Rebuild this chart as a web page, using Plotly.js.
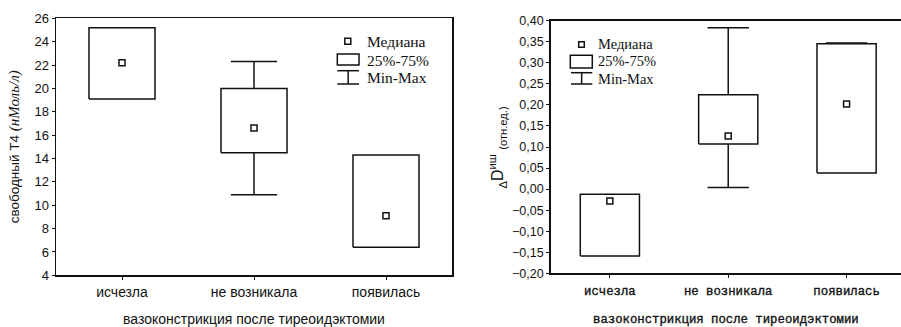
<!DOCTYPE html>
<html>
<head>
<meta charset="utf-8">
<script src="https://cdn.plot.ly/plotly-3.0.1.min.js"></script>
<style>
  html, body { margin: 0; padding: 0; background: #fff; }
  #chart { width: 901px; height: 327px; }
  /* slightly heavier monospace labels on the right-hand panel */
  #chart .x2tick text, #chart .x2title { stroke: #111; stroke-width: 0.35px; }
</style>
</head>
<body>
<div id="chart"></div>
<script>
// Groups: vasoconstriction after thyroidectomy
const categories = ['исчезла', 'не возникала', 'появилась'];

// Free T4, nmol/l: min, quartiles, median, max per group
const t4Min    = [19.1, 10.9, 6.4];
const t4Q1     = [19.1, 14.5, 6.4];
const t4Median = [22.2, 16.6, 9.1];
const t4Q3     = [25.2, 20.0, 14.3];
const t4Max    = [25.2, 22.3, 14.3];

// ΔD (relative units): min, quartiles, median, max per group
const dMin    = [-0.159, 0.004, 0.038];
const dQ1     = [-0.159, 0.107, 0.038];
const dMedian = [-0.028, 0.126, 0.202];
const dQ3     = [-0.012, 0.224, 0.345];
const dMax    = [-0.012, 0.383, 0.347];

const W = 901, H = 327;
const BOX_HALF = 0.25;   // half box width, in category units
const CAP_HALF = 0.175;  // half whisker-cap width
const INK = '#111';

// pixel -> paper fraction helpers for layout placement
const px = v => v / W;
const py = v => 1 - v / H;

function groupTraces(xa, ya, mins, q1, med, q3, maxs) {
  const bx = [], by = [], wx = [], wy = [];
  categories.forEach((c, i) => {
    bx.push(i - BOX_HALF, i + BOX_HALF, i + BOX_HALF, i - BOX_HALF, i - BOX_HALF, null);
    by.push(q1[i], q1[i], q3[i], q3[i], q1[i], null);
    if (maxs[i] > q3[i]) {
      wx.push(i, i, null, i - CAP_HALF, i + CAP_HALF, null);
      wy.push(q3[i], maxs[i], null, maxs[i], maxs[i], null);
    }
    if (mins[i] < q1[i]) {
      wx.push(i, i, null, i - CAP_HALF, i + CAP_HALF, null);
      wy.push(q1[i], mins[i], null, mins[i], mins[i], null);
    }
  });
  return [
    { type: 'scatter', mode: 'lines', x: wx, y: wy, xaxis: xa, yaxis: ya,
      line: { color: INK, width: 1.5 }, hoverinfo: 'skip', showlegend: false },
    { type: 'scatter', mode: 'lines', x: bx, y: by, xaxis: xa, yaxis: ya,
      line: { color: INK, width: 1.5 }, hoverinfo: 'skip', showlegend: false },
    { type: 'scatter', mode: 'markers', x: categories.map((c, i) => i), y: med,
      xaxis: xa, yaxis: ya, showlegend: false,
      marker: { symbol: 'square-open', size: 6, color: INK, line: { width: 1.5, color: INK } } }
  ];
}

const traces = [
  ...groupTraces('x', 'y', t4Min, t4Q1, t4Median, t4Q3, t4Max),
  ...groupTraces('x2', 'y2', dMin, dQ1, dMedian, dQ3, dMax)
];

// hand-drawn key: marker square, quartile box, min-max whisker
function keyShapes(sq, box, wh) {
  const s = [];
  const line = { color: INK, width: 1.5 };
  s.push({ type: 'rect', xref: 'paper', yref: 'paper',
    x0: px(sq.cx - sq.s / 2), x1: px(sq.cx + sq.s / 2),
    y0: py(sq.cy + sq.s / 2), y1: py(sq.cy - sq.s / 2), line });
  s.push({ type: 'rect', xref: 'paper', yref: 'paper',
    x0: px(box.x0), x1: px(box.x1), y0: py(box.y1), y1: py(box.y0), line });
  const cx = (wh.x0 + wh.x1) / 2;
  s.push({ type: 'line', xref: 'paper', yref: 'paper', x0: px(wh.x0), x1: px(wh.x1), y0: py(wh.y0), y1: py(wh.y0), line });
  s.push({ type: 'line', xref: 'paper', yref: 'paper', x0: px(cx), x1: px(cx), y0: py(wh.y0), y1: py(wh.y1), line });
  s.push({ type: 'line', xref: 'paper', yref: 'paper', x0: px(wh.x0), x1: px(wh.x1), y0: py(wh.y1), y1: py(wh.y1), line });
  return s;
}
function keyTexts(x, ys, size) {
  const labels = ['Медиана', '25%-75%', 'Min-Max'];
  return labels.map((t, i) => ({
    text: t, xref: 'paper', yref: 'paper', x: px(x), y: py(ys[i]),
    xanchor: 'left', yanchor: 'middle', showarrow: false,
    font: { family: 'Liberation Serif, Times New Roman, serif', size, color: INK }
  }));
}

const sans = 'Liberation Sans, Arial, sans-serif';
const mono = 'Liberation Mono, Courier New, monospace';

const axisCommon = {
  showgrid: false, zeroline: false, showline: true, linecolor: INK, linewidth: 1.5,
  ticks: 'outside', ticklen: 3, tickcolor: INK, tickwidth: 1
};

const layout = {
  width: W, height: H,
  margin: { l: 0, r: 0, t: 0, b: 0 },
  paper_bgcolor: '#fff', plot_bgcolor: '#fff',
  showlegend: false,
  separators: ', ',
  xaxis: Object.assign({}, axisCommon, {
    domain: [px(56), px(452)], anchor: 'y', mirror: true,
    range: [-0.5, 2.5], tickvals: [0, 1, 2], ticktext: categories,
    tickfont: { family: sans, size: 14, color: INK },
    title: { text: 'вазоконстрикция после тиреоидэктомии', font: { family: sans, size: 14, color: INK }, standoff: 16 }
  }),
  yaxis: Object.assign({}, axisCommon, {
    domain: [py(275.3), py(18.3)], anchor: 'x', mirror: true,
    range: [4, 26], dtick: 2, tick0: 4,
    tickfont: { family: sans, size: 13, color: INK },
    title: {
      text: 'свободный Т4 <span style="font-family:\'Liberation Serif\', serif;font-size:15px"><i>(нМоль/л)</i></span>',
      font: { family: sans, size: 13.5, color: INK }, standoff: 11
    }
  }),
  xaxis2: Object.assign({}, axisCommon, {
    domain: [px(550.7), 1], anchor: 'y2', mirror: true,
    range: [-0.5, -0.5 + 350.3 / 118.35], tickvals: [0, 1, 2], ticktext: categories,
    tickfont: { family: mono, size: 12.3, color: INK },
    ticklabelstandoff: 2,
    title: { text: 'вазоконстрикция после тиреоидэктомии', font: { family: mono, size: 12.3, color: INK }, standoff: 17 }
  }),
  yaxis2: Object.assign({}, axisCommon, {
    domain: [py(273.3), py(20.7)], anchor: 'x2', mirror: false,
    range: [-0.2, 0.4], dtick: 0.05, tick0: 0, tickformat: '.2f',
    tickfont: { family: sans, size: 12.5, color: INK }
  }),
  shapes: [
    ...keyShapes({ cx: 347.8, cy: 41.3, s: 6 }, { x0: 337.3, x1: 359, y0: 54, y1: 65 }, { x0: 337.3, x1: 359, y0: 70.7, y1: 84 }),
    ...keyShapes({ cx: 581.5, cy: 44.5, s: 5.6 }, { x0: 570.3, x1: 592.3, y0: 55.3, y1: 68 }, { x0: 571, x1: 592.3, y0: 72.7, y1: 84 })
  ],
  annotations: [
    ...keyTexts(364.5, [41.5, 60, 77], 15.5),
    ...keyTexts(596, [44.3, 61, 78.7], 14.5),
    {
      text: '<sub>Δ</sub>D<sup>иш</sup> <sub>(отн.ед.)</sub>',
      xref: 'paper', yref: 'paper', x: px(498), y: py(147.5),
      xanchor: 'center', yanchor: 'middle', textangle: -90, showarrow: false,
      font: { family: sans, size: 16, color: INK }
    }
  ]
};

Plotly.newPlot('chart', traces, layout, { staticPlot: true, displayModeBar: false });
</script>
</body>
</html>
